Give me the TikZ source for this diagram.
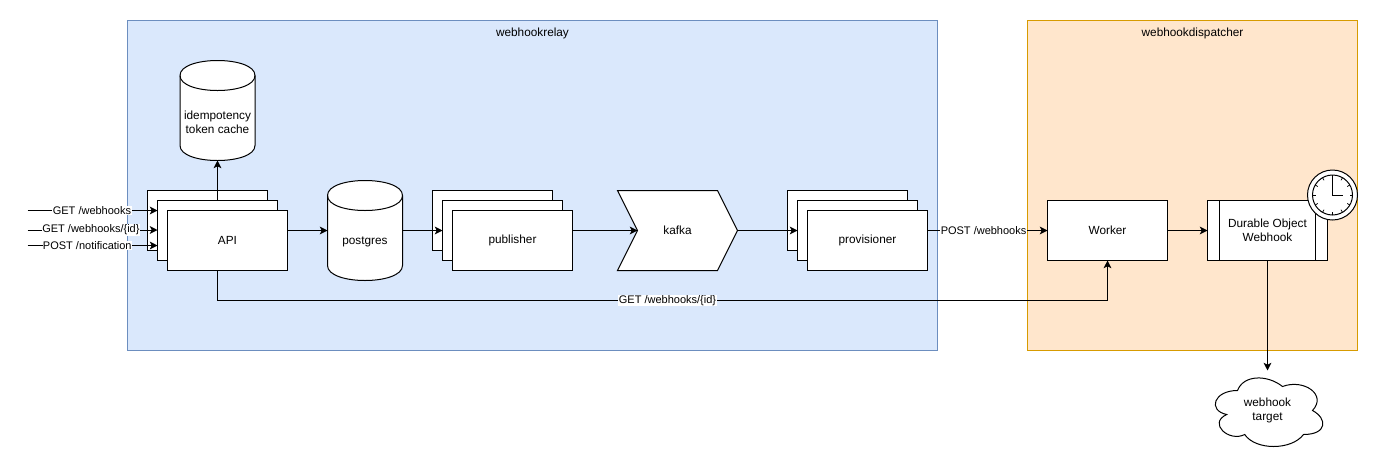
\documentclass[tikz,border=0pt]{standalone}
\usepackage{fontspec}
\setmainfont{Liberation Sans}
\usetikzlibrary{arrows.meta}
\pgfdeclarelayer{lowest}
\pgfdeclarelayer{lower}
\pgfsetlayers{lowest,lower,main}
\definecolor{relayfill}{HTML}{DAE8FC}
\definecolor{relayline}{HTML}{6C8EBF}
\definecolor{dispfill}{HTML}{FFE6CC}
\definecolor{displine}{HTML}{D79B00}
\tikzset{
  x=0.75pt,y=-0.75pt,
  every node/.style={font=\fontsize{8.85}{10.5}\selectfont,text=black,align=center,inner sep=0pt,outer sep=0pt},
  group/.style={draw=#1,line width=0.75pt},
  boxnode/.style={draw=black,fill=white,line width=0.75pt,minimum width=90pt,minimum height=45pt},
  conn/.style={draw=black,line width=0.75pt,-{Stealth[length=5.8pt,width=5.8pt,inset=1.5pt]}},
  shapeline/.style={draw=black,fill=white,line width=0.75pt},
  edgelabel/.style={fill=white,inner xsep=0.3pt,inner ysep=0.6pt,font=\fontsize{8.25}{9.6}\selectfont}
}
\newcommand{\cylinderat}[1]{%
  \begin{scope}[shift={(#1.north west)}]
    \path[shapeline] (0,15) .. controls (0,-5) and (75,-5) .. (75,15) -- (75,85)
      .. controls (75,105) and (0,105) .. (0,85) -- cycle;
    \draw[line width=0.75pt] (0,15) .. controls (0,35) and (75,35) .. (75,15);
  \end{scope}}
\begin{document}
\begin{tikzpicture}
\useasboundingbox (0,0) rectangle (1379,472);
\begin{pgfonlayer}{lowest}
  \fill[white] (0,0) rectangle (1379,472);
  \path[group=relayline,fill=relayfill] (127.5,20.5) rectangle (937.5,350.5);
  \path[group=displine,fill=dispfill] (1027.5,20.5) rectangle (1357.5,350.5);
  \node[boxnode] (apiback) at (207.5,220.5) {};
  \node[boxnode] (pubback) at (492.5,220.5) {};
  \node[boxnode] (provback) at (847.5,220.5) {};
\end{pgfonlayer}

\node (relaytitle) at (532.5,33.5) {webhookrelay};
\node (disptitle) at (1192.5,33.5) {webhookdispatcher};

% middle and front cards
\node[boxnode] (apimid) at (217.5,230.5) {};
\node[boxnode] (api) at (227.5,240) {API};
\node[boxnode] (pubmid) at (502.5,230.5) {};
\node[boxnode] (pub) at (512.5,240.5) {publisher};
\node[boxnode] (provmid) at (857.5,230.5) {};
\node[boxnode] (prov) at (867.5,240.5) {provisioner};
\node[boxnode] (worker) at (1107.5,230.5) {Worker};
\node[boxnode] (durable) at (1267.5,230.5) {Durable Object\\Webhook};
\draw[line width=0.75pt] (1219.5,200.5) -- (1219.5,260.5) (1315.5,200.5) -- (1315.5,260.5);

% cylinders, step and cloud: the outline lies under the named nodes
\node[minimum width=56.25pt,minimum height=75pt] (cache) at (217.5,110.5) {};
\node[minimum width=56.25pt,minimum height=75pt] (postgres) at (365,230.5) {};
\node (cachetext) at ([yshift=-9pt]cache.center) {idempotency\\token cache};
\node (postgrestext) at ([yshift=-8.5pt]postgres.center) {postgres};
\node[minimum width=90pt,minimum height=60pt] (kafka) at (677.5,230.5) {kafka};
\node[minimum width=90pt,minimum height=60pt] (target) at (1267.5,410.5) {webhook\\target};
\begin{pgfonlayer}{lower}
  \cylinderat{cache}
  \cylinderat{postgres}
  \path[shapeline] (617.5,190.5) -- (717.5,190.5) -- (737.5,230.5) -- (717.5,270.5) -- (617.5,270.5) -- (637.5,230.5) -- cycle;
  \begin{scope}[shift={(target.north west)}]
    \path[shapeline] (30,20) .. controls (6,20) and (0,40) .. (19.2,44)
      .. controls (0,52.8) and (21.6,72) .. (37.2,64)
      .. controls (48,80) and (84,80) .. (96,64)
      .. controls (120,64) and (120,48) .. (105,40)
      .. controls (120,24) and (96,8) .. (75,16)
      .. controls (60,4) and (36,4) .. (30,20) -- cycle;
  \end{scope}
  \draw[conn] (api.north -| cache.south) -- (cache.south);
\end{pgfonlayer}

% clock
\node[draw=black,fill=white,line width=0.75pt,circle,minimum size=37.5pt] (clock) at (1332.5,195) {};
\begin{scope}[shift={(clock.center)}]
  \draw[line width=0.75pt] (0,0) circle[radius=20];
  \foreach \a in {0,30,...,330} {\draw[line width=0.55pt] (\a:20) -- (\a:17);}
  \draw[line width=0.6pt] (0,-17.5) -- (0,0) -- (10,0);
\end{scope}

% incoming requests
\coordinate (inA) at (27.5,210.5);
\coordinate (inB) at (27.5,230);
\coordinate (inC) at (27.5,245.5);
\draw[conn] (inA) -- node[edgelabel,pos=0.496] {GET /webhooks} (inA -| apimid.west);
\draw[conn] (inB) -- node[edgelabel,pos=0.488] {GET /webhooks/\{id\}} (inB -| apimid.west);
\draw[conn] (inC) -- node[edgelabel,pos=0.46] {POST /notification} (inC -| apimid.west);

% main flow
\draw[conn] (api.east |- postgres.west) -- (postgres.west);
\draw[conn] (postgres.east) -- (pubmid.west);
\draw[conn] (pub.east |- kafka.west) -- ([xshift=15pt]kafka.west);
\draw[conn] (kafka.east) -- (provmid.west);
\draw[conn] (prov.east |- worker.west) -- node[edgelabel,pos=0.467] {POST /webhooks} (worker.west);
\draw[conn] (worker.east) -- (durable.west);
\draw[conn] (durable.south) -- (target.north);
\coordinate (apiturn) at (217.5,300.5);
\draw[line width=0.75pt] (apiturn |- api.south) -- (apiturn);
\draw[conn] (apiturn) -| node[edgelabel,pos=0.2528] {GET /webhooks/\{id\}} (worker.south);
\end{tikzpicture}
\end{document}
